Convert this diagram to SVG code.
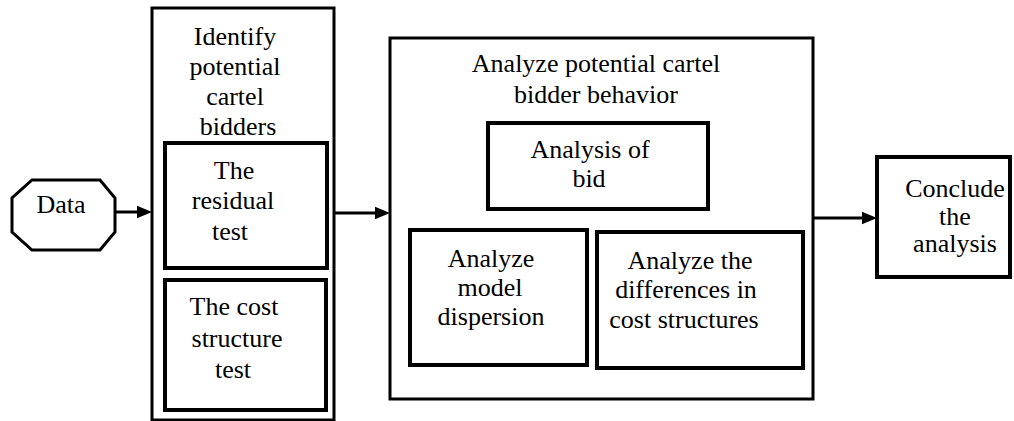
<svg xmlns="http://www.w3.org/2000/svg" width="1014" height="421" viewBox="0 0 1014 421">
<style>
.t{font-size:26px;fill:#000;text-anchor:middle}
.outer{fill:#fff;stroke:#000;stroke-width:3}
.inner{fill:#fff;stroke:#000;stroke-width:4}
.conn{stroke:#000;stroke-width:3;fill:none}
.head{fill:#000;stroke:none}
</style>
<rect width="1014" height="421" fill="#fff"/>
<g id="data">
<polygon class="outer" points="32,180 100,180 115,198 115,232 100,250 32,250 12,232 12,198"/>
<text class="t" x="61" y="213" font-family="Times New Roman, serif">Data</text>
</g>
<g id="identify">
<rect class="outer" x="152" y="8" width="182" height="412"/>
<text class="t" x="235" y="45" font-family="Times New Roman, serif">Identify</text>
<text class="t" x="235" y="75" font-family="Times New Roman, serif">potential</text>
<text class="t" x="235" y="105" font-family="Times New Roman, serif">cartel</text>
<text class="t" x="238" y="135" font-family="Times New Roman, serif">bidders</text>
</g>
<g id="residual">
<rect class="inner" x="165" y="143" width="162" height="125"/>
<text class="t" x="234" y="179" font-family="Times New Roman, serif">The</text>
<text class="t" x="233" y="209" font-family="Times New Roman, serif">residual</text>
<text class="t" x="230" y="240" font-family="Times New Roman, serif">test</text>
</g>
<g id="cost-test">
<rect class="inner" x="165" y="280" width="161" height="130"/>
<text class="t" x="234" y="315" font-family="Times New Roman, serif">The cost</text>
<text class="t" x="237" y="347" font-family="Times New Roman, serif">structure</text>
<text class="t" x="233" y="378" font-family="Times New Roman, serif">test</text>
</g>
<g id="analyze">
<rect class="outer" x="390" y="38" width="423" height="361"/>
<text class="t" x="596" y="72" font-family="Times New Roman, serif">Analyze potential cartel</text>
<text class="t" x="596" y="103" font-family="Times New Roman, serif">bidder behavior</text>
</g>
<g id="bid">
<rect class="inner" x="488" y="123" width="220" height="86"/>
<text class="t" x="590" y="158" font-family="Times New Roman, serif">Analysis of</text>
<text class="t" x="589" y="187" font-family="Times New Roman, serif">bid</text>
</g>
<g id="dispersion">
<rect class="inner" x="410" y="230" width="177" height="135"/>
<text class="t" x="491" y="267" font-family="Times New Roman, serif">Analyze</text>
<text class="t" x="490" y="296" font-family="Times New Roman, serif">model</text>
<text class="t" x="491" y="325" font-family="Times New Roman, serif">dispersion</text>
</g>
<g id="differences">
<rect class="inner" x="597" y="232" width="206" height="136"/>
<text class="t" x="690" y="269" font-family="Times New Roman, serif">Analyze the</text>
<text class="t" x="686" y="298" font-family="Times New Roman, serif">differences in</text>
<text class="t" x="684" y="328" font-family="Times New Roman, serif">cost structures</text>
</g>
<g id="conclude">
<rect class="inner" x="877" y="157" width="133" height="120"/>
<text class="t" x="955" y="197" font-family="Times New Roman, serif">Conclude</text>
<text class="t" x="955" y="225" font-family="Times New Roman, serif">the</text>
<text class="t" x="955" y="252" font-family="Times New Roman, serif">analysis</text>
</g>
<g id="connectors">
<line class="conn" x1="115" y1="212" x2="138" y2="212"/>
<polygon class="head" points="137,205.7 152,212 137,218.3"/>
<line class="conn" x1="334" y1="213" x2="376" y2="213"/>
<polygon class="head" points="375,206.7 390,213 375,219.3"/>
<line class="conn" x1="813" y1="218" x2="863" y2="218"/>
<polygon class="head" points="862,211.7 877,218 862,224.3"/>
</g>
</svg>
